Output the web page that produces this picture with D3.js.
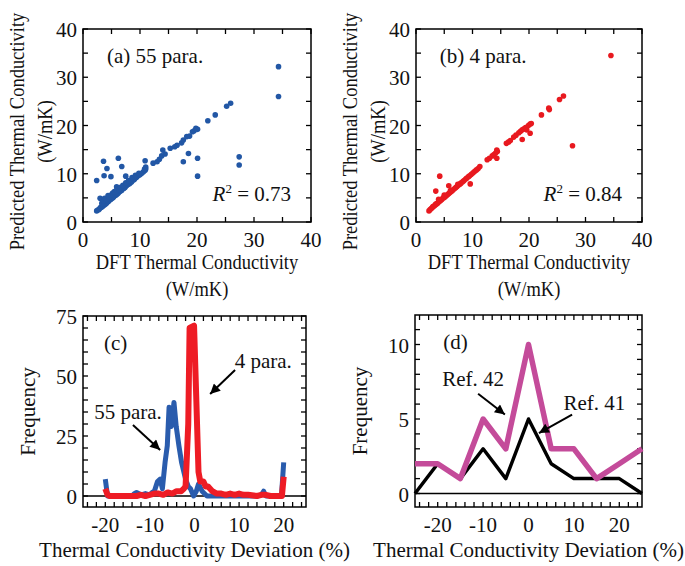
<!DOCTYPE html>
<html><head><meta charset="utf-8">
<script src="https://cdn.jsdelivr.net/npm/d3@7"></script>
<style>
body{margin:0;background:#fff}
svg{display:block}
text{font-family:"Liberation Serif","Times New Roman",serif;fill:#111}
</style>
</head><body>
<svg id="chart" width="685" height="566"></svg>
<script>
// ---------- DATA ----------
// (a) 55 parameters: DFT vs predicted thermal conductivity (W/mK)
const aX = [2.4,2.6,2.8,3.0,3.1,3.3,3.4,3.5,3.6,3.8,3.9,4.0,4.2,4.3,4.5,4.6,4.8,5.0,5.1,5.3,5.5,5.6,5.8,6.0,6.2,6.4,6.6,6.8,7.0,7.2,7.4,7.6,7.8,8.0,8.2,8.5,8.7,9.0,9.2,9.4,9.7,10.0,10.3,10.6,10.9,11.0,
  3.0,3.3,3.6,3.8,4.1,4.4,4.6,4.9,5.2,5.5,5.9,5.9,6.3,6.6,7.0,7.5,8.0,8.6,9.2,9.8,10.8,11.0,
  12.3,13.0,13.4,13.8,14.4,14.0,15.3,16.1,16.5,17.3,17.6,18.2,18.7,19.2,19.5,19.8,20.1,
  21.9,23.2,25.2,25.9,34.3,34.3,27.4,27.4,
  20.1,20.1,18.5,17.6,2.4,3.6,4.2,3.7,4.9,6.2,6.8,7.5,10.9];
const aY = [2.3,2.5,2.6,2.9,3.0,3.1,3.4,3.3,3.5,3.6,3.9,3.8,4.0,4.3,4.3,4.6,4.6,4.8,5.0,5.1,5.4,5.5,5.6,5.8,6.0,6.3,6.4,6.6,6.9,7.0,7.2,7.5,7.7,7.9,8.0,8.3,8.6,8.8,9.1,9.3,9.6,9.8,10.1,10.4,10.7,11.0,
  4.9,3.9,4.4,4.9,4.7,5.5,5.2,5.6,6.0,6.3,7.3,6.6,6.8,7.2,7.6,8.1,8.6,9.2,9.7,10.1,11.0,11.4,
  12.2,12.5,13.0,13.7,14.1,14.9,15.3,15.6,15.9,16.4,17.0,17.7,17.8,18.7,18.9,19.4,19.2,
  21.0,22.2,24.0,24.6,32.2,26.0,13.5,11.8,
  13.2,9.5,14.2,12.5,8.6,12.6,11.1,9.6,9.4,13.2,11.5,9.5,12.7];
// (b) 4 parameters
const bX = [2.3,2.5,2.7,2.9,3.0,3.2,3.4,3.5,3.7,3.9,4.0,4.2,4.4,4.6,4.8,5.0,5.2,5.4,5.6,5.8,6.0,6.2,6.4,6.6,6.9,7.1,7.3,7.6,7.8,8.0,8.3,8.5,8.8,9.0,9.3,9.5,9.8,10.1,10.4,10.7,11.0,11.3,
  3.5,4.2,5.8,9.6,4.0,5.0,6.1,7.4,
  12.6,13.0,13.5,13.8,14.1,14.3,14.4,14.3,16.0,16.4,16.7,17.3,17.7,18.2,18.5,18.8,19.1,19.4,19.6,19.9,20.2,20.4,20.2,18.8,
  22.2,23.5,23.6,25.4,26.1,34.5,27.7];
const bY = [2.3,2.6,2.8,3.0,3.2,3.3,3.5,3.7,3.8,4.0,4.2,4.3,4.5,4.7,5.0,5.1,5.3,5.5,5.7,5.9,6.1,6.3,6.5,6.7,7.0,7.2,7.4,7.7,7.9,8.1,8.4,8.6,8.9,9.1,9.4,9.6,9.9,10.2,10.5,10.8,11.1,11.5,
  6.4,9.5,7.5,7.9,4.7,5.6,6.5,7.8,
  12.9,13.2,13.7,14.0,14.3,14.9,14.6,13.2,16.3,16.6,16.9,17.6,18.0,18.5,18.8,19.1,19.3,19.6,19.1,20.0,20.3,20.4,18.4,17.1,
  22.2,23.6,23.3,25.4,26.1,34.5,15.8];
const scatterTicks = [0,10,20,30,40];

// (c) frequency of deviation (%)
const blueX = [-20,-19.5,-17,-15,-14,-13.5,-13,-12,-11,-10,-9.5,-9,-8.3,-7.7,-7.2,-6.6,-6.1,-5.7,-5.2,-4.6,-4.1,-3.5,-2.9,-2,-1.4,-0.9,-0.2,0.4,0.9,1.7,2.8,4,6,8,10,12,14,15,15.5,16,18,19.5,20];
const blue55 = [7,0,0,0,0,1,1.5,0.5,1,0.5,1.5,2,6,7,3,14,21,37,29,39,29,21,14,7,4,3,0,2,5,2,0,0,0,0,0,0,0,0.5,2,0,0,0,14];
const redX = [-20,-19.5,-19,-17,-15,-13,-12,-11,-10,-9,-8,-7,-6,-5,-4,-3,-2.4,-2,-1.4,-1.1,-0.1,0.9,1.3,2,2.5,3,3.5,4,5,6,7,8,9,10,11,12,14,15,16,17,18,19,19.6,20];
const red4 = [3,0.5,0,0,0,0,0.5,0,0.5,1,1,0.5,1.5,1,2,2,3,4,30,70,71,10,6,6,4,4,3,2,1,1,0.5,1,0.5,1,0.5,0.5,0,0.5,0.5,0,0,0,0,8];
const devTicks = [-20,-10,0,10,20];
const cYTicks = [0,25,50,75];

// (d) literature comparison
const dX = [-25,-20,-15,-10,-5,0,5,10,15,20,25];
const ref42 = [2,2,1,5,3,10,3,3,1,2,3];
const ref41 = [0,2,1,3,1,5,2,1,1,1,0];
const dYTicks = [0,5,10];

// ---------- DRAW ----------
const svg = d3.select("#chart");
const FS = 21, FT = 21, SQ = 0.88;
const defs = svg.append("defs");
defs.append("marker").attr("id","ah").attr("viewBox","0 0 10 10").attr("refX",10).attr("refY",5)
  .attr("markerWidth",12).attr("markerHeight",10).attr("markerUnits","userSpaceOnUse").attr("orient","auto")
  .append("path").attr("d","M0,0L10,5L0,10Z").attr("fill","#000");

function frame(l,t,r,b){
  svg.append("rect").attr("x",l).attr("y",t).attr("width",r-l).attr("height",b-t)
    .attr("fill","none").attr("stroke","#000").attr("stroke-width",1.5);
}
function ticks(x,y,l,t,r,b,xt,yt,len){
  const g = svg.append("g").attr("stroke","#000").attr("stroke-width",1.3);
  g.selectAll(null).data(xt).join("line").attr("x1",d=>x(d)).attr("x2",d=>x(d)).attr("y1",b).attr("y2",b-len);
  g.selectAll(null).data(xt).join("line").attr("x1",d=>x(d)).attr("x2",d=>x(d)).attr("y1",t).attr("y2",t+len);
  g.selectAll(null).data(yt).join("line").attr("y1",d=>y(d)).attr("y2",d=>y(d)).attr("x1",l).attr("x2",l+len);
  g.selectAll(null).data(yt).join("line").attr("y1",d=>y(d)).attr("y2",d=>y(d)).attr("x1",r).attr("x2",r-len);
}
function labels(x,y,b,l,xt,yt){
  svg.append("g").selectAll(null).data(xt).join("text").attr("x",d=>x(d)).attr("y",b+25)
    .attr("text-anchor","middle").attr("font-size",FS).text(d=>d);
  svg.append("g").selectAll(null).data(yt).join("text").attr("x",l-6).attr("y",d=>y(d)+8)
    .attr("text-anchor","end").attr("font-size",FS).text(d=>d);
}
function range(a,b,s){const o=[];for(let v=a;v<=b+1e-9;v+=s)o.push(+v.toFixed(3));return o;}

// scatter panels
function scatter(l,t,r,b,X,Y,color,tag,r2,lab1x,lab2x){
  const x = d3.scaleLinear().domain([0,40]).range([l,r]);
  const y = d3.scaleLinear().domain([0,40]).range([b,t]);
  frame(l,t,r,b);
  ticks(x,y,l,t,r,b,range(0,40,5),range(0,40,5),5);
  labels(x,y,b,l,scatterTicks,scatterTicks);
  svg.append("g").selectAll(null).data(X).join("circle")
    .attr("cx",d=>x(d)).attr("cy",(d,i)=>y(Y[i])).attr("r",2.8).attr("fill",color);
  svg.append("text").attr("x",x(4.2)).attr("y",y(33)).attr("font-size",FS).text(tag);
  const rt = svg.append("text").attr("x",r-20).attr("y",y(4.4)).attr("text-anchor","end").attr("font-size",FS);
  rt.append("tspan").attr("font-style","italic").text("R");
  rt.append("tspan").attr("dy",-8).attr("font-size",13).text("2");
  rt.append("tspan").attr("dy",8).text(" = "+r2);
  const cx=(l+r)/2;
  svg.append("text").attr("transform",`translate(${cx},${b+47}) scale(${SQ},1)`).attr("text-anchor","middle").attr("font-size",FT).text("DFT Thermal Conductivity");
  svg.append("text").attr("transform",`translate(${cx},${b+74}) scale(${SQ},1)`).attr("text-anchor","middle").attr("font-size",FT).text("(W/mK)");
  const cy=(t+b)/2+6;
  svg.append("text").attr("transform",`translate(${lab1x},${cy}) rotate(-90) scale(${SQ},1)`).attr("text-anchor","middle").attr("font-size",FT).text("Predicted Thermal Conductivity");
  svg.append("text").attr("transform",`translate(${lab2x},${cy}) rotate(-90) scale(${SQ},1)`).attr("text-anchor","middle").attr("font-size",FT).text("(W/mK)");
}
scatter(83,29,311,222,aX,aY,"#2257a5","(a) 55 para.","0.73",24,52);
scatter(416,29,642,222,bX,bY,"#e8191f","(b) 4 para.","0.84",357,385);

// (c)
{
  const l=83,t=316,r=306,b=507;
  const x = d3.scaleLinear().domain([-25,25]).range([l,r]);
  const y = d3.scaleLinear().domain([0,75]).range([496,t]);
  frame(l,t,r,b);
  ticks(x,y,l,t,r,b,range(-24,24,2),range(0,75,5),5);
  labels(x,y,b,l,devTicks,cYTicks);
  svg.append("line").attr("x1",l).attr("x2",r).attr("y1",y(0)).attr("y2",y(0)).attr("stroke","#000").attr("stroke-width",1.3);
  const line = d3.line().x(d=>x(d[0])).y(d=>y(d[1]));
  svg.append("path").attr("d",line(blueX.map((v,i)=>[v,blue55[i]]))).attr("fill","none").attr("stroke","#2a5cad").attr("stroke-width",5).attr("stroke-linejoin","round");
  svg.append("path").attr("d",line(redX.map((v,i)=>[v,red4[i]]))).attr("fill","none").attr("stroke","#ee1c25").attr("stroke-width",6).attr("stroke-linejoin","round");
  svg.append("text").attr("x",x(-20.3)).attr("y",y(61)).attr("font-size",FS).text("(c)");
  svg.append("text").attr("x",x(9)).attr("y",y(53.5)).attr("font-size",FS).text("4 para.");
  svg.append("text").attr("x",x(-22.5)).attr("y",y(32)).attr("font-size",FS).text("55 para.");
  svg.append("line").attr("x1",x(9.1)).attr("y1",y(52.5)).attr("x2",x(3.5)).attr("y2",y(42.5)).attr("stroke","#000").attr("stroke-width",2).attr("marker-end","url(#ah)");
  svg.append("line").attr("x1",x(-13.8)).attr("y1",y(29.6)).attr("x2",x(-7.7)).attr("y2",y(19.2)).attr("stroke","#000").attr("stroke-width",2).attr("marker-end","url(#ah)");
  svg.append("text").attr("transform",`translate(35,${(t+b)/2}) rotate(-90)`).attr("text-anchor","middle").attr("font-size",FS).text("Frequency");
  svg.append("text").attr("x",(l+r)/2).attr("y",b+50).attr("text-anchor","middle").attr("font-size",FS).text("Thermal Conductivity Deviation (%)");
}
// (d)
{
  const l=415,t=315,r=642,b=507;
  const x = d3.scaleLinear().domain([-25,25]).range([l,r]);
  const y = d3.scaleLinear().domain([0,10]).range([493.5,344.5]);
  frame(l,t,r,b);
  ticks(x,y,l,t,r,b,range(-24,24,2),range(0,11,1),5);
  labels(x,y,b,l,devTicks,dYTicks);
  svg.append("line").attr("x1",l).attr("x2",r).attr("y1",y(0)).attr("y2",y(0)).attr("stroke","#000").attr("stroke-width",1.3);
  const line = d3.line().x(d=>x(d[0])).y(d=>y(d[1]));
  svg.append("path").attr("d",line(dX.map((v,i)=>[v,ref41[i]]))).attr("fill","none").attr("stroke","#000").attr("stroke-width",3.5).attr("stroke-linejoin","round");
  svg.append("path").attr("d",line(dX.map((v,i)=>[v,ref42[i]]))).attr("fill","none").attr("stroke","#c44b9a").attr("stroke-width",5.5).attr("stroke-linejoin","round");
  svg.append("text").attr("x",x(-18.8)).attr("y",y(9.7)).attr("font-size",FS).text("(d)");
  svg.append("text").attr("x",x(-19)).attr("y",y(7.2)).attr("font-size",FS).text("Ref. 42");
  svg.append("text").attr("x",x(7.7)).attr("y",y(5.6)).attr("font-size",FS).text("Ref. 41");
  svg.append("line").attr("x1",x(-11.1)).attr("y1",y(6.7)).attr("x2",x(-5.2)).attr("y2",y(5.3)).attr("stroke","#000").attr("stroke-width",2).attr("marker-end","url(#ah)");
  svg.append("line").attr("x1",x(9.6)).attr("y1",y(5.3)).attr("x2",x(2.3)).attr("y2",y(4.06)).attr("stroke","#000").attr("stroke-width",2).attr("marker-end","url(#ah)");
  svg.append("text").attr("transform",`translate(367,${(t+b)/2}) rotate(-90)`).attr("text-anchor","middle").attr("font-size",FS).text("Frequency");
  svg.append("text").attr("x",(l+r)/2).attr("y",b+50).attr("text-anchor","middle").attr("font-size",FS).text("Thermal Conductivity Deviation (%)");
}
</script>
</body></html>
